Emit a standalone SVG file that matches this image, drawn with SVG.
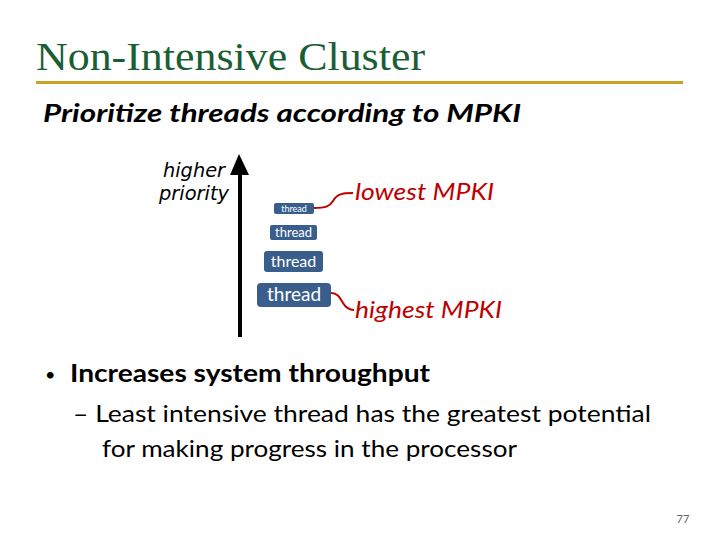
<svg xmlns="http://www.w3.org/2000/svg" width="720" height="540" viewBox="0 0 720 540">
<style>
.sans{font-family:Lato,"Open Sans","Liberation Sans",sans-serif}
.ver{font-family:"DejaVu Sans",Verdana,sans-serif;font-style:italic;font-size:19px;fill:#000;text-anchor:end}
.red{fill:#c00000;font-style:italic;font-size:24px}
.box{fill:#3a5e8c}
.bt{fill:#ffffff;text-anchor:middle}
.wire{fill:none;stroke:#c00000;stroke-width:2}
</style>
<rect width="720" height="540" fill="#ffffff"/>
<g id="title">
<text x="36" y="70" font-family="'Liberation Serif',serif" font-size="41" fill="#1a5e34" textLength="389" lengthAdjust="spacingAndGlyphs">Non-Intensive Cluster</text>
<rect x="36" y="81" width="647" height="3" fill="#c9a227"/>
</g>
<text class="sans" x="43" y="122" font-size="25" font-weight="bold" font-style="italic" fill="#000" textLength="478" lengthAdjust="spacingAndGlyphs">Prioritize threads according to MPKI</text>
<g id="axis">
<text class="ver" x="225" y="177" textLength="62" lengthAdjust="spacingAndGlyphs">higher</text>
<text class="ver" x="229" y="200" textLength="70" lengthAdjust="spacingAndGlyphs">priority</text>
<line x1="240" y1="337" x2="240" y2="172" stroke="#000" stroke-width="4"/>
<polygon points="239,154 230,175 249,175" fill="#000"/>
</g>
<g id="thread1"><rect class="box" x="274" y="203" width="40" height="11" rx="2"/><text class="sans bt" x="294" y="212" font-size="9">thread</text></g>
<g id="thread2"><rect class="box" x="270" y="225" width="47" height="15" rx="2"/><text class="sans bt" x="293.5" y="237" font-size="13">thread</text></g>
<g id="thread3"><rect class="box" x="264" y="251" width="59" height="21" rx="3"/><text class="sans bt" x="293.5" y="267" font-size="16">thread</text></g>
<g id="thread4"><rect class="box" x="257" y="283" width="74" height="24" rx="4"/><text class="sans bt" x="294" y="301" font-size="19">thread</text></g>
<g id="connectors">
<path class="wire" d="M314,208 C326,208 330,206 333,201 C337,194 342,193 353,193"/>
<path class="wire" d="M331,293 C338,293 340,298 343,303 C346,308 349,310 354,310"/>
</g>
<g id="labels">
<text class="sans red" x="355" y="200" textLength="139" lengthAdjust="spacingAndGlyphs">lowest MPKI</text>
<text class="sans red" x="355" y="318" textLength="147" lengthAdjust="spacingAndGlyphs">highest MPKI</text>
</g>
<g id="bullets">
<text class="sans" x="45" y="381" font-size="18" fill="#000">•</text>
<text class="sans" x="70" y="382" font-size="24" font-weight="bold" fill="#000" textLength="360" lengthAdjust="spacingAndGlyphs">Increases system throughput</text>
<text class="sans" x="73" y="422" font-size="24" fill="#000" textLength="578" lengthAdjust="spacingAndGlyphs">– Least intensive thread has the greatest potential</text>
<text class="sans" x="102" y="457" font-size="24" fill="#000" textLength="415" lengthAdjust="spacingAndGlyphs">for making progress in the processor</text>
</g>
<text class="sans" x="683" y="523" font-size="11" fill="#666" text-anchor="middle">77</text>
</svg>
